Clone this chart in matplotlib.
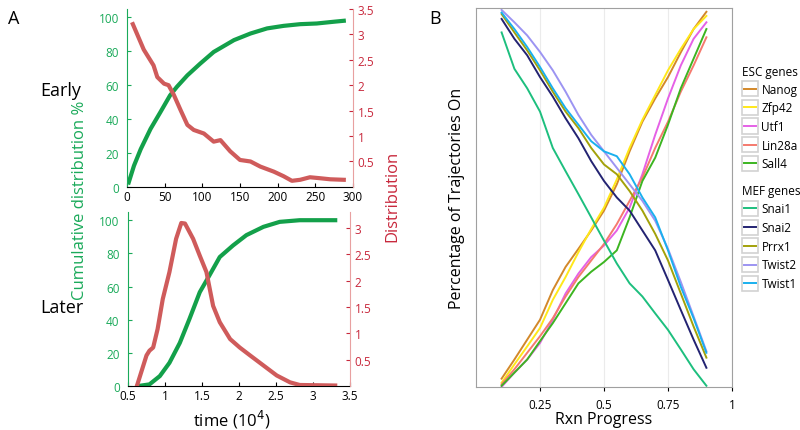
import numpy as np
import matplotlib.pyplot as plt
from matplotlib.lines import Line2D
from matplotlib.patches import Rectangle

plt.rcParams['font.family'] = ['Open Sans', 'DejaVu Sans']

GREEN = '#13a04a'
RED = '#cf5b5b'
REDTXT = '#c8283c'
GTXT = '#1aaa5a'

# Panel A, early
early_t = [2, 9, 18, 31, 44, 57, 66, 80, 97, 115, 142, 164, 186, 208, 230, 252, 274, 288]
early_cum = [2.6, 12.5, 22.3, 34.2, 44, 54, 59, 65.8, 72.7, 79.6, 86.6, 90.5, 93.5, 95, 96, 96.4, 97.4, 98]
early_dt = [7.5, 22, 35, 40, 49, 55, 62, 71, 80, 88.5, 102, 115, 124, 137, 150, 164, 177, 195, 208, 219, 230, 243, 257, 270, 288]
early_dist = [3.2, 2.70, 2.39, 2.16, 2.03, 2.0, 1.81, 1.51, 1.22, 1.12, 1.05, 0.89, 0.92, 0.70, 0.53,
              0.50, 0.40, 0.30, 0.21, 0.12, 0.14, 0.19, 0.17, 0.15, 0.14]

# Panel A, later (time in 10^4)
later_t = [0.635, 0.79, 0.93, 1.06, 1.2, 1.33, 1.47, 1.6, 1.74, 1.92, 2.1, 2.33, 2.55, 2.82, 3.3]
later_cum = [0, 1, 6, 14, 26, 40.4, 56.6, 66.7, 77.8, 84.8, 91, 96, 99, 100, 100]
later_dt = [0.62, 0.75, 0.79, 0.84, 0.9, 0.97, 1.06, 1.15, 1.22, 1.27, 1.38, 1.47, 1.56, 1.65, 1.74,
            1.88, 2.01, 2.15, 2.33, 2.51, 2.69, 2.82, 3.3]
later_dist = [0, 0.58, 0.67, 0.73, 1.08, 1.65, 2.16, 2.79, 3.09, 3.08, 2.79, 2.47, 2.16, 1.52, 1.21,
              0.89, 0.73, 0.58, 0.39, 0.20, 0.07, 0.02, 0.01]

# Panel B
progress = [0.1, 0.15, 0.2, 0.25, 0.3, 0.35, 0.4, 0.45, 0.5, 0.55, 0.6, 0.65, 0.7, 0.75, 0.8, 0.85, 0.9]
esc_genes = ['Nanog', 'Zfp42', 'Utf1', 'Lin28a', 'Sall4']
esc_colors = ['#d3882a', '#ffe81a', '#e561e6', '#f57a6e', '#3cb521']
nanog = [2.2, 7.3, 12.6, 17.9, 25.8, 32.0, 36.8, 41.7, 47.0, 54.0, 62.8, 70.7, 76.9, 82.6, 89.2, 95.4, 100]
zfp42 = [1.1, 6.0, 10.8, 15.7, 23.2, 29.3, 35.9, 42.1, 47.8, 55.3, 63.7, 71.2, 77.8, 84.4, 90.1, 95.4, 98.9]
utf1 = [0, 3.8, 7.3, 11.7, 17.9, 24.9, 30.2, 34.6, 37.7, 41.7, 47.8, 56.7, 67.2, 76.9, 85.7, 92.8, 97.2]
lin28a = [0.7, 4.7, 9.1, 13.5, 18.3, 24.1, 29.3, 33.7, 38.1, 43.4, 49.6, 55.8, 63.7, 70.7, 78.7, 85.7, 93.2]
sall4 = [0.3, 3.8, 7.3, 12.2, 17.0, 22.3, 27.6, 30.7, 33.3, 36.4, 45.2, 54.9, 61.1, 69.9, 79.6, 87.5, 95.4]
mef_genes = ['Snai1', 'Snai2', 'Prrx1', 'Twist2', 'Twist1']
mef_colors = ['#1dbf7e', '#232372', '#a3a10a', '#9c94f2', '#1ab0ee']
snai1 = [94.5, 84.8, 79.6, 73.4, 63.7, 57.5, 51.4, 45.2, 39.0, 32.9, 27.6, 24.1, 19.6, 15.2, 10.0, 4.7, 0.3]
snai2 = [98.1, 92.8, 88.4, 82.6, 77.4, 71.6, 66.3, 60.2, 54.9, 50.5, 47.0, 41.7, 36.4, 28.5, 20.5, 12.6, 5.1]
prrx1 = [99.4, 94.5, 89.7, 84.4, 78.7, 73.4, 69.0, 63.7, 59.3, 56.7, 52.2, 47.0, 40.8, 33.7, 24.9, 16.1, 7.8]
twist2 = [100.5, 97.2, 93.7, 89.3, 84.4, 78.7, 72.5, 67.2, 62.8, 58.4, 54.0, 49.6, 44.3, 36.8, 28.0, 18.8, 9.5]
twist1 = [99.8, 95.4, 90.6, 85.3, 79.6, 74.3, 69.9, 65.5, 62.8, 61.5, 56.7, 50.5, 45.2, 36.4, 26.7, 18.3, 9.1]

fig = plt.figure(figsize=(8, 4.31), dpi=100)


def style_a(ax, ax2):
    ax.spines['top'].set_visible(False)
    ax.spines['right'].set_visible(False)
    ax.spines['left'].set_color(GTXT)
    ax2.spines['top'].set_visible(False)
    ax2.spines['left'].set_visible(False)
    ax2.spines['bottom'].set_visible(False)
    ax2.spines['right'].set_color('#e8a0a0')
    ax.tick_params(axis='y', colors=GTXT, direction='in', length=3, labelsize=8.5, pad=6)
    ax.tick_params(axis='x', direction='in', length=3, labelsize=8.5, pad=2)
    ax2.tick_params(axis='y', colors=REDTXT, direction='in', length=3, labelsize=8.5)


# early
ax1 = fig.add_axes([0.159, 0.564, 0.282, 0.413])
ax1b = ax1.twinx()
ax1.plot(early_t, early_cum, color=GREEN, lw=3)
ax1b.plot(early_dt, early_dist, color=RED, lw=3)
ax1.set_xlim(0, 300)
ax1.set_ylim(0, 105)
ax1.set_yticks([0, 20, 40, 60, 80, 100])
ax1.set_xticks([0, 50, 100, 150, 200, 250, 300])
ax1b.set_ylim(0, 3.5)
ax1b.set_yticks([0.5, 1, 1.5, 2, 2.5, 3, 3.5])
ax1b.set_yticklabels(['0.5', '1', '1.5', '2', '2.5', '3', '3.5'])
style_a(ax1, ax1b)

# later
ax2 = fig.add_axes([0.16, 0.102, 0.2775, 0.404])
ax2b = ax2.twinx()
ax2.plot(later_t, later_cum, color=GREEN, lw=3)
ax2b.plot(later_dt, later_dist, color=RED, lw=3)
ax2.set_xlim(0.5, 3.5)
ax2.set_ylim(0, 105)
ax2.set_yticks([0, 20, 40, 60, 80, 100])
ax2.set_xticks([0.5, 1, 1.5, 2, 2.5, 3, 3.5])
ax2.set_xticklabels(['0.5', '1', '1.5', '2', '2.5', '3', '3.5'])
ax2b.set_ylim(0, 3.3)
ax2b.set_yticks([0.5, 1, 1.5, 2, 2.5, 3])
ax2b.set_yticklabels(['0.5', '1', '1.5', '2', '2.5', '3'])
style_a(ax2, ax2b)

fig.text(0.01, 0.955, 'A', fontsize=13, va='center')
fig.text(0.05, 0.79, 'Early', fontsize=13, va='center')
fig.text(0.05, 0.285, 'Later', fontsize=13, va='center')
fig.text(0.1, 0.536, 'Cumulative distribution %', color=GTXT, fontsize=12,
         rotation=90, ha='center', va='center')
fig.text(0.49, 0.545, 'Distribution', color=REDTXT, fontsize=12,
         rotation=90, ha='center', va='center')
fig.text(0.29, 0.025, r'time (10$^4$)', fontsize=12, ha='center', va='center')

# panel B
axb = fig.add_axes([0.595, 0.1, 0.32, 0.879])
for vals, c in zip([nanog, zfp42, utf1, lin28a, sall4], esc_colors):
    axb.plot(progress, vals, color=c, lw=1.4)
for vals, c in zip([snai1, snai2, prrx1, twist2, twist1], mef_colors):
    axb.plot(progress, vals, color=c, lw=1.4)
axb.set_xlim(0, 1.0)
axb.set_ylim(0, 101)
axb.set_xticks([0.25, 0.5, 0.75, 1])
axb.set_xticklabels(['0.25', '0.5', '0.75', '1'])
axb.set_yticks([])
axb.grid(axis='x', color='#ebebeb', lw=0.8)
axb.set_axisbelow(True)
for s in axb.spines.values():
    s.set_color('#a0a0a0')
axb.tick_params(axis='x', length=3, pad=5, labelsize=8.5)
axb.set_xlabel('Rxn Progress', fontsize=11.5, labelpad=0)
axb.set_ylabel('Percentage of Trajectories On', fontsize=11.5, labelpad=8)
fig.text(0.537, 0.955, 'B', fontsize=13, va='center')


# legend key: grey box with a coloured line through the middle
class KeyHandler:
    def legend_artist(self, legend, orig_handle, fontsize, handlebox):
        x0, y0 = -handlebox.xdescent, -handlebox.ydescent
        w, h = handlebox.width, handlebox.height
        tr = handlebox.get_transform()
        rect = Rectangle((x0, y0), w, h, facecolor='white', edgecolor='#d2d2d2', lw=1.2, transform=tr)
        line = Line2D([x0 + 1.5, x0 + w - 1.5], [y0 + h / 2, y0 + h / 2],
                      color=orig_handle.get_color(), lw=1.4, transform=tr)
        handlebox.add_artist(rect)
        handlebox.add_artist(line)
        return line


leg_kw = dict(loc='upper left', frameon=False, fontsize=8.5, title_fontsize=8.5, handlelength=1.36,
              handleheight=1.6, handletextpad=0.25, labelspacing=0.3, borderaxespad=0,
              borderpad=0, handler_map={Line2D: KeyHandler()})
h1 = [Line2D([], [], color=c) for c in esc_colors]
leg1 = fig.legend(h1, esc_genes, title='ESC genes', bbox_to_anchor=(0.928, 0.848), **leg_kw)
leg1._legend_box.align = 'left'
h2 = [Line2D([], [], color=c) for c in mef_colors]
leg2 = fig.legend(h2, mef_genes, title='MEF genes', bbox_to_anchor=(0.928, 0.57), **leg_kw)
leg2._legend_box.align = 'left'

fig.savefig('out.png', dpi=100)
